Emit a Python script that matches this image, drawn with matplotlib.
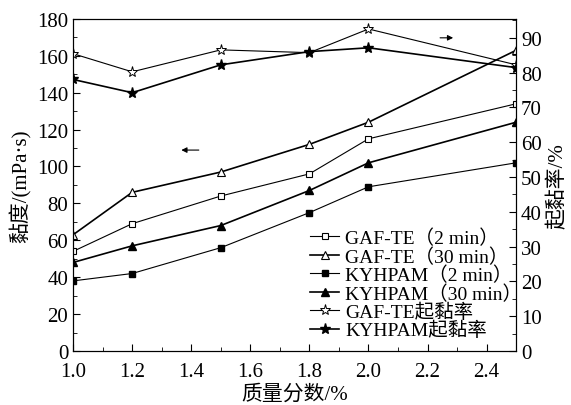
import matplotlib.pyplot as plt
from matplotlib.ticker import MultipleLocator

plt.rcParams['font.family'] = ['Liberation Serif', 'Noto Sans CJK SC']
plt.rcParams['font.size'] = 15

x = [1.0, 1.2, 1.5, 1.8, 2.0, 2.5]
gaf_2 = [54, 69, 84, 96, 115, 134]
gaf_30 = [63, 86, 97, 112, 124, 163]
ky_2 = [38, 42, 56, 75, 89, 102]
ky_30 = [48, 57, 68, 87, 102, 124]
gaf_rate = [85.4, 80.2, 86.5, 85.7, 92.5, 82.2]
ky_rate = [78.0, 74.2, 82.2, 86.0, 87.1, 81.4]

fig = plt.figure(figsize=(5.71, 4.06), dpi=100)
ax = fig.add_axes([0.128, 0.133, 0.776, 0.818])
ax2 = ax.twinx()

l1, = ax.plot(x, gaf_2, 'k-', marker='s', mfc='white', ms=5, mew=0.8, lw=0.8, label='GAF-TE（2 min）')
l2, = ax.plot(x, gaf_30, 'k-', marker='^', mfc='white', ms=6, mew=0.8, lw=1.2, label='GAF-TE（30 min）')
l3, = ax.plot(x, ky_2, 'k-', marker='s', ms=5, lw=0.8, label='KYHPAM（2 min）')
l4, = ax.plot(x, ky_30, 'k-', marker='^', ms=6, lw=1.2, label='KYHPAM（30 min）')
l5, = ax2.plot(x, gaf_rate, 'k-', marker='*', mfc='white', ms=8, mew=0.7, lw=0.8, label='GAF-TE起黏率')
l6, = ax2.plot(x, ky_rate, 'k-', marker='*', ms=8, lw=1.2, label='KYHPAM起黏率')

ax.set_xlim(1.0, 2.5)
ax.set_ylim(0, 180)
ax2.set_ylim(0, 95.4)
ax.set_xticks([1.0, 1.2, 1.4, 1.6, 1.8, 2.0, 2.2, 2.4])
ax.xaxis.set_minor_locator(MultipleLocator(0.1))
ax.yaxis.set_major_locator(MultipleLocator(20))
ax.yaxis.set_minor_locator(MultipleLocator(10))
ax2.yaxis.set_major_locator(MultipleLocator(10))
ax2.yaxis.set_minor_locator(MultipleLocator(5))
for a in (ax, ax2):
    a.tick_params(which='both', direction='in', labelsize=15)
    a.tick_params(which='major', length=5)
    a.tick_params(which='minor', length=3)
ax.tick_params(axis='x', pad=8)

ax.set_xlabel('质量分数/%', fontsize=15, labelpad=2)
ax.set_ylabel('黏度/(mPa·s)', fontsize=15)
ax2.set_ylabel('起黏率/%', fontsize=15)

ax.annotate('', xy=(0.238, 0.605), xytext=(0.29, 0.605), xycoords='axes fraction',
            arrowprops=dict(arrowstyle='-|>', color='black', lw=0.8, mutation_scale=8))
ax.annotate('', xy=(0.864, 0.943), xytext=(0.822, 0.943), xycoords='axes fraction',
            arrowprops=dict(arrowstyle='-|>', color='black', lw=0.8, mutation_scale=8))

ax.legend(handles=[l1, l2, l3, l4, l5, l6], loc='lower right', bbox_to_anchor=(1.04, 0.0),
          frameon=False, fontsize=14, handlelength=1.5, handletextpad=0.3,
          labelspacing=0.0, borderaxespad=0.2)

fig.savefig('out.png', dpi=100)
